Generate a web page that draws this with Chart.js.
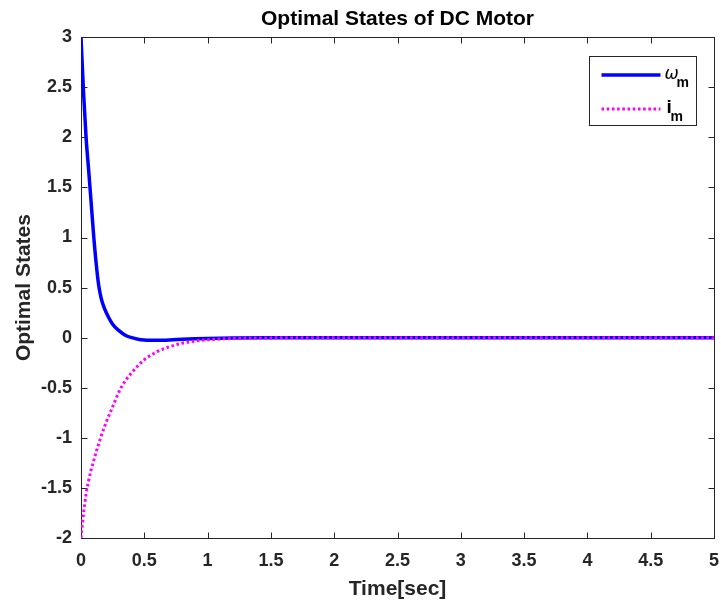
<!DOCTYPE html>
<html>
<head>
<meta charset="utf-8">
<title>Optimal States of DC Motor</title>
<script src="https://cdn.jsdelivr.net/npm/chart.js@4.4.1/dist/chart.umd.min.js"></script>
<style>
  html, body { margin: 0; padding: 0; background: #fff; }
  #wrap { width: 721px; height: 602px; }
</style>
</head>
<body>
<div id="wrap"><canvas id="statesChart"></canvas></div>
<script>
// time samples [sec] (denser where the curves move fast)
const timeSec = [0, 0.02, 0.04, 0.06, 0.08, 0.10, 0.12, 0.14, 0.16, 0.18, 0.20, 0.25, 0.30, 0.35,
                 0.40, 0.45, 0.50, 0.60, 0.70, 0.80, 0.90, 1.0, 1.2, 1.5, 2.0, 3.0, 4.0, 5.0]

// motor speed  w_m
const omegaM = [3.0, 2.45, 2.0, 1.68, 1.35, 1.02, 0.74, 0.52, 0.39, 0.31, 0.25, 0.135, 0.07, 0.025,
                0.0, -0.015, -0.022, -0.025, -0.022, -0.016, -0.011, -0.007, -0.003, -0.001, 0, 0, 0, 0]

// armature current  i_m
const currentM = [-2.0, -1.76, -1.56, -1.43, -1.32, -1.23, -1.14, -1.06, -0.98, -0.91, -0.84, -0.69, -0.54, -0.43,
                  -0.35, -0.28, -0.22, -0.14, -0.09, -0.055, -0.034, -0.021, -0.008, -0.002, 0, 0, 0, 0]

const xTickValues = [0, 0.5, 1, 1.5, 2, 2.5, 3, 3.5, 4, 4.5, 5]
const yTickValues = [-2, -1.5, -1, -0.5, 0, 0.5, 1, 1.5, 2, 2.5, 3]

const axisColor = '#262626'
const fontFamily = '"Liberation Sans", Arial, Helvetica, sans-serif'

const toPoints = (ys) => timeSec.map((t, i) => ({ x: t, y: ys[i] }))

// MATLAB style box with inward ticks on all four sides
const axesBox = {
    id: 'axesBox',
    beforeDatasetsDraw(chart) {
        const { ctx, chartArea: a, scales: { x, y } } = chart
        const L = Math.round(a.left) + 0.5, R = Math.round(a.right) + 0.5
        const T = Math.round(a.top) + 0.5, B = Math.round(a.bottom) + 0.5
        const len = 6
        ctx.save()
        ctx.strokeStyle = axisColor
        ctx.lineWidth = 1
        ctx.strokeRect(L, T, R - L, B - T)
        ctx.beginPath()
        x.ticks.forEach(t => {
            const px = Math.round(x.getPixelForValue(t.value)) + 0.5
            ctx.moveTo(px, B); ctx.lineTo(px, B - len)
            ctx.moveTo(px, T); ctx.lineTo(px, T + len)
        })
        y.ticks.forEach(t => {
            const py = Math.round(y.getPixelForValue(t.value)) + 0.5
            ctx.moveTo(L, py); ctx.lineTo(L + len, py)
            ctx.moveTo(R, py); ctx.lineTo(R - len, py)
        })
        ctx.stroke()
        ctx.restore()
    }
}

// legend box with subscripts (w_m, i_m)
const stateLegend = {
    id: 'stateLegend',
    afterDraw(chart) {
        const { ctx, chartArea: a } = chart
        const ds = chart.data.datasets
        const right = Math.round(a.right) - 18 + 0.5
        const top = Math.round(a.top) + 19 + 0.5
        const w = 107, h = 69
        const left = right - w
        ctx.save()
        ctx.fillStyle = '#ffffff'
        ctx.fillRect(left, top, w, h)
        ctx.strokeStyle = axisColor
        ctx.lineWidth = 1
        ctx.strokeRect(left, top, w, h)

        const rows = [
            { d: ds.find(d => d.key === 'omega'), y: top + 18.5, sym: '\u03c9', symFont: 'italic 17px "DejaVu Sans", sans-serif', symX: left + 75, subX: left + 87 },
            { d: ds.find(d => d.key === 'current'), y: top + 52.5, sym: 'i', symFont: 'bold 19px ' + fontFamily, symX: left + 77, subX: left + 81 }
        ]
        rows.forEach(r => {
            ctx.save()
            ctx.strokeStyle = r.d.borderColor
            ctx.lineWidth = r.d.borderWidth
            ctx.setLineDash(r.d.borderDash || [])
            ctx.beginPath()
            ctx.moveTo(left + 12, Math.round(r.y))
            ctx.lineTo(left + 71, Math.round(r.y))
            ctx.stroke()
            ctx.restore()

            ctx.fillStyle = '#000'
            ctx.textBaseline = 'alphabetic'
            ctx.textAlign = 'left'
            ctx.font = r.symFont
            ctx.fillText(r.sym, r.symX, r.y + 4)
            ctx.font = 'bold 14px ' + fontFamily
            ctx.fillText('m', r.subX, r.y + 12)
        })
        ctx.restore()
    }
}

new Chart(document.getElementById('statesChart'), {
    type: 'line',
    data: {
        datasets: [
            {
                key: 'current',
                label: 'i_m',
                data: toPoints(currentM),
                borderColor: '#ff00ff',
                borderWidth: 3,
                borderDash: [2.6, 2.6],
                pointRadius: 0,
                cubicInterpolationMode: 'monotone',
                order: 0
            },
            {
                key: 'omega',
                label: '\u03c9_m',
                data: toPoints(omegaM),
                borderColor: '#0000ff',
                borderWidth: 3.5,
                pointRadius: 0,
                cubicInterpolationMode: 'monotone',
                order: 1
            }
        ]
    },
    options: {
        responsive: true,
        maintainAspectRatio: false,
        animation: false,
        layout: { padding: { left: 0, right: 7, top: 0, bottom: 0 } },
        plugins: {
            legend: { display: false },
            tooltip: { enabled: false },
            title: {
                display: true,
                text: 'Optimal States of DC Motor',
                color: '#000',
                fullSize: false,
                font: { family: fontFamily, size: 21, weight: 'bold' },
                padding: { top: 7, bottom: 5 }
            }
        },
        scales: {
            x: {
                type: 'linear',
                min: 0,
                max: 5,
                afterFit: (s) => { s.height = 64; s.paddingLeft = 0; s.paddingRight = 0 },
                afterBuildTicks: (s) => { s.ticks = xTickValues.map(v => ({ value: v })) },
                grid: { display: false, drawTicks: false },
                border: { display: false },
                ticks: {
                    color: axisColor,
                    font: { family: fontFamily, size: 18, weight: 'bold' },
                    padding: 12,
                    maxRotation: 0,
                    autoSkip: false,
                    callback: (v) => String(v)
                },
                title: {
                    display: true,
                    text: 'Time[sec]',
                    color: axisColor,
                    font: { family: fontFamily, size: 21, weight: 'bold' },
                    padding: { top: 0, bottom: 0 }
                }
            },
            y: {
                type: 'linear',
                min: -2,
                max: 3,
                afterFit: (s) => { s.width = 81 },
                afterBuildTicks: (s) => { s.ticks = yTickValues.map(v => ({ value: v })) },
                grid: { display: false, drawTicks: false },
                border: { display: false },
                ticks: {
                    color: axisColor,
                    font: { family: fontFamily, size: 18, weight: 'bold' },
                    padding: 9,
                    autoSkip: false,
                    callback: (v) => String(v)
                },
                title: {
                    display: true,
                    text: 'Optimal States',
                    color: axisColor,
                    font: { family: fontFamily, size: 21, weight: 'bold' },
                    padding: { top: 12, bottom: 0 }
                }
            }
        }
    },
    plugins: [axesBox, stateLegend]
})
</script>
</body>
</html>
